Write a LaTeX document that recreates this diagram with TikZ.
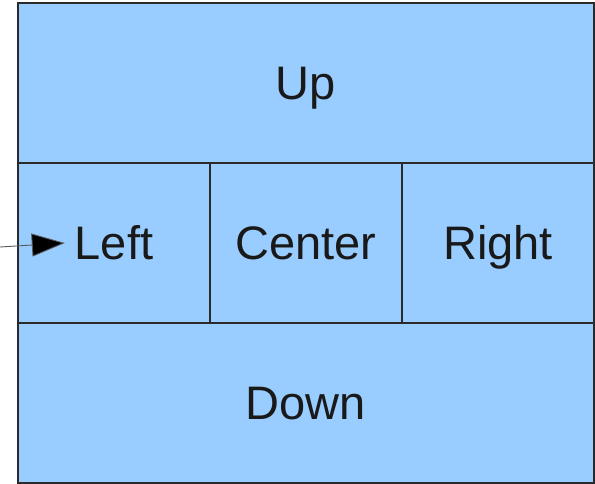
\documentclass[tikz,border=0pt]{standalone}
\usepackage{fontspec}
\setmainfont{Liberation Sans}
\usetikzlibrary{arrows.meta}
\definecolor{cellfill}{HTML}{99CCFF}
\definecolor{cellline}{HTML}{2A2A2A}
\tikzset{
  cell/.style={draw=cellline, fill=cellfill, line width=1.1pt, inner sep=0pt,
    font=\fontsize{47}{56}\selectfont, text=black!90,
    text height=33.6pt, text depth=0pt},
  pointer/.style={draw=black!65, line width=0.9pt,
    -{Triangle[length=33pt,width=23pt,fill=black]}}
}
\begin{document}
\begin{tikzpicture}[x=1pt,y=-1pt]
  \useasboundingbox (0,0) rectangle (595,484);
  % top band
  \node[cell, minimum width=576pt, minimum height=160pt] (up) at (306,83) {Up};
  % middle row of three cells
  \node[cell, minimum width=192pt, minimum height=160pt] (left) at (114,243) {Left};
  \node[cell, minimum width=192pt, minimum height=160pt] (center) at (306,243) {Center};
  \node[cell, minimum width=192pt, minimum height=160pt] (right) at (498,243) {Right};
  % bottom band
  \node[cell, minimum width=576pt, minimum height=160pt] (down) at (306,403) {Down};
  % incoming pointer to the Left cell
  \coordinate (src) at (0,247);
  \draw[pointer] (src) -- ([xshift=-10pt]left.text |- left.center);
\end{tikzpicture}
\end{document}
